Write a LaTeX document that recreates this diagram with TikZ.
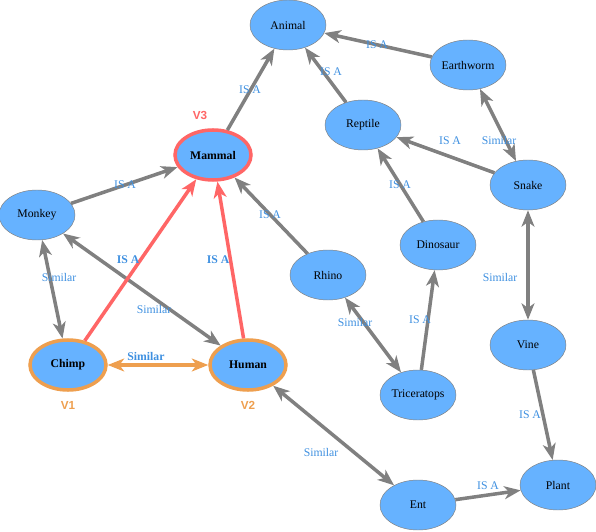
\documentclass[tikz,border=0pt]{standalone}
\usepackage{fontspec}
\setmainfont{Liberation Serif}
\newfontfamily\vfont{Liberation Sans}
\usetikzlibrary{arrows.meta,shapes.geometric}
\definecolor{nodeblue}{HTML}{66B2FF}
\definecolor{edgegray}{HTML}{808080}
\definecolor{lblblue}{HTML}{3D8FE0}
\definecolor{hired}{HTML}{FF6666}
\definecolor{hiorange}{HTML}{EE9F4F}

\begin{document}
\begin{tikzpicture}[
            ent/.style={ellipse,draw=edgegray,fill=nodeblue,minimum width=2.28cm,minimum height=1.5cm,inner sep=0pt},
            hub/.style={ent,line width=3pt,font=\bfseries},
            lbl/.style={text=lblblue,inner sep=1pt},
            vlbl/.style={font=\vfont\bfseries},
            isa/.style={-{Stealth[length=14pt,width=11pt,inset=4pt]},line width=3pt,draw=edgegray},
            sim/.style={isa,{Stealth[length=14pt,width=11pt,inset=4pt]}-{Stealth[length=14pt,width=11pt,inset=4pt]}},
        ]
    \useasboundingbox (0,0) rectangle (17.88,15.93);

    \node[ent] (animal) at (8.64,15.18) {Animal};
    \node[ent] (earthworm) at (14.04,13.98) {Earthworm};
    \node[ent] (reptile) at (10.89,12.18) {Reptile};
    \node[ent] (snake) at (15.84,10.38) {Snake};
    \node[hub,draw=hired] (mammal) at (6.39,11.28) {Mammal};
    \node[ent] (monkey) at (1.11,9.48) {Monkey};
    \node[ent] (rhino) at (9.84,7.68) {Rhino};
    \node[ent] (dinosaur) at (13.14,8.58) {Dinosaur};
    \node[hub,draw=hiorange] (chimp) at (2.04,4.98) {Chimp};
    \node[hub,draw=hiorange] (human) at (7.44,4.98) {Human};
    \node[ent] (vine) at (15.84,5.58) {Vine};
    \node[ent] (triceratops) at (12.54,4.08) {Triceratops};
    \node[ent] (ent) at (12.54,0.78) {Ent};
    \node[ent] (plant) at (16.74,1.38) {Plant};

    \node[vlbl,text=hired] (v3) at (6.0,12.48) {V3};
    \node[vlbl,text=hiorange] (v1) at (2.04,3.78) {V1};
    \node[vlbl,text=hiorange] (v2) at (7.44,3.78) {V2};

    \draw[isa] (mammal) -- (animal);
    \draw[isa] (reptile) -- (animal);
    \draw[isa] (earthworm) -- (animal);
    \draw[isa] (snake) -- (reptile);
    \draw[sim] (earthworm) -- (snake);
    \draw[isa] (dinosaur) -- (reptile);
    \draw[isa] (monkey) -- (mammal);
    \draw[isa] (rhino) -- (mammal);
    \draw[sim] (monkey) -- (chimp);
    \draw[sim] (monkey) -- (human);
    \draw[sim] (snake) -- (vine);
    \draw[sim] (rhino) -- (triceratops);
    \draw[isa] (triceratops) -- (dinosaur);
    \draw[isa] (vine) -- (plant);
    \draw[sim] (human) -- (ent);
    \draw[isa] (ent) -- (plant);
    \draw[isa,draw=hired] (chimp) -- (mammal);
    \draw[isa,draw=hired] (human) -- (mammal);
    \draw[sim,draw=hiorange] (chimp) -- (human);

    \node[lbl] (l1) at (7.5,13.23) {IS A};
    \node[lbl] (l2) at (9.93,13.77) {IS A};
    \node[lbl] (l3) at (11.31,14.58) {IS A};
    \node[lbl] (l4) at (13.5,11.7) {IS A};
    \node[lbl] (l5) at (14.97,11.73) {Similar};
    \node[lbl] (l6) at (12.0,10.38) {IS A};
    \node[lbl] (l7) at (3.75,10.38) {IS A};
    \node[lbl] (l8) at (8.1,9.48) {IS A};
    \node[lbl,font=\bfseries] (l9) at (3.84,8.13) {IS A};
    \node[lbl,font=\bfseries] (l10) at (6.54,8.13) {IS A};
    \node[lbl] (l11) at (1.77,7.62) {Similar};
    \node[lbl] (l12) at (4.62,6.66) {Similar};
    \node[lbl,font=\bfseries] (l13) at (4.38,5.25) {Similar};
    \node[lbl] (l14) at (15.0,7.62) {Similar};
    \node[lbl] (l15) at (10.65,6.27) {Similar};
    \node[lbl] (l16) at (12.6,6.33) {IS A};
    \node[lbl] (l17) at (15.9,3.48) {IS A};
    \node[lbl] (l18) at (9.63,2.37) {Similar};
    \node[lbl] (l19) at (14.64,1.35) {IS A};
\end{tikzpicture}
\end{document}
